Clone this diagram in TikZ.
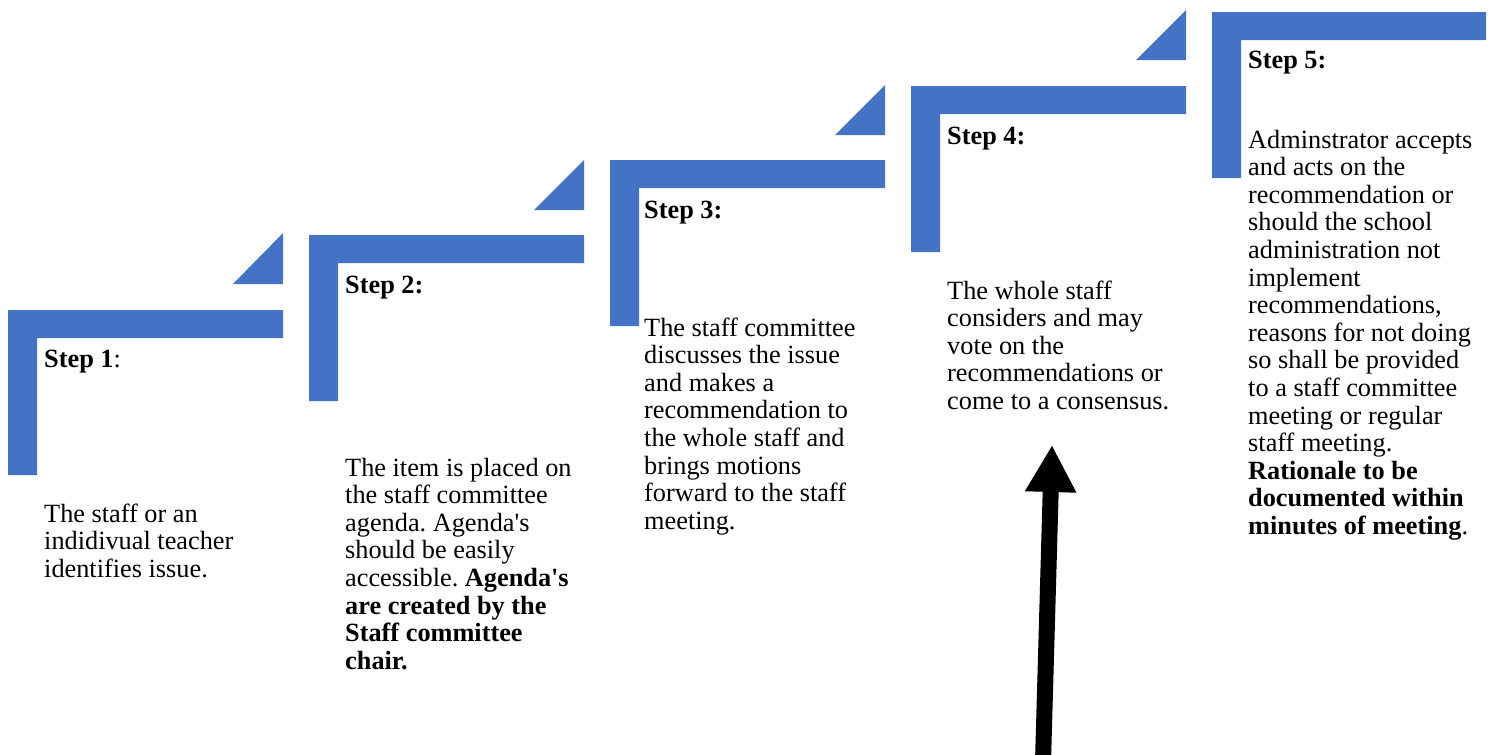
\documentclass[tikz,border=0pt]{standalone}
\usepackage{fontspec}
\setmainfont{Liberation Serif}
\usetikzlibrary{arrows.meta}
\definecolor{stepblue}{HTML}{4472C4}
\newcommand{\apos}{\textquotesingle}
\frenchspacing
\tikzset{
  stair/.style={fill=stepblue, draw=none},
  head/.style={anchor=base west, inner sep=0pt, font=\fontsize{26.3}{27.6}\selectfont},
  % base of a multi-line node is its last line
  body/.style={anchor=base west, inner sep=0pt, align=left, font=\fontsize{26.3}{27.6}\selectfont}
}
\begin{document}
\begin{tikzpicture}[x=1pt, y=-1pt]
    \useasboundingbox (0,0) rectangle (1494,755);

    % Stairs
    \fill[stair] (8,310) -- (283,310) -- (283,338) -- (37,338) -- (37,475) -- (8,475) -- cycle;
    \fill[stair] (233,284) -- (283,284) -- (283,233) -- cycle;
    \fill[stair] (309,235) -- (584,235) -- (584,263) -- (338,263) -- (338,401) -- (309,401) -- cycle;
    \fill[stair] (534,210) -- (584,210) -- (584,160) -- cycle;
    \fill[stair] (610,160) -- (885,160) -- (885,188) -- (639,188) -- (639,326) -- (610,326) -- cycle;
    \fill[stair] (835,135) -- (885,135) -- (885,85) -- cycle;
    \fill[stair] (911,86) -- (1186,86) -- (1186,114) -- (940,114) -- (940,252) -- (911,252) -- cycle;
    \fill[stair] (1136,60) -- (1186,60) -- (1186,10) -- cycle;
    \fill[stair] (1212,12) -- (1486,12) -- (1486,40) -- (1241,40) -- (1241,178) -- (1212,178) -- cycle;

    % Step texts
    \node (s1head) [head] at (44,367) {\textbf{Step 1}:};
    \node (s1body) [body] at (44,577.2) {The staff or an\\indidivual teacher\\identifies issue.};

    \node (s2head) [head] at (345,293) {\textbf{Step 2:}};
    \node (s2body) [body] at (345,669.2) {The item is placed on\\the staff committee\\agenda. Agenda\apos s\\should be easily\\accessible. \textbf{Agenda\apos s}\\\textbf{are created by the}\\\textbf{Staff committee}\\\textbf{chair.}};

    \node (s3head) [head] at (644,218) {\textbf{Step 3:}};
    \node (s3body) [body] at (644,529.2) {The staff committee\\discusses the issue\\and makes a\\recommendation to\\the whole staff and\\brings motions\\forward to the staff\\meeting.};

    \node (s4head) [head] at (947,144) {\textbf{Step 4:}};
    \node (s4body) [body] at (947,409.4) {The whole staff\\considers and may\\vote on the\\recommendations or\\come to a consensus.};

    \node (s5head) [head] at (1248,68) {\textbf{Step 5:}};
    \node (s5body) [body] at (1248,534.4) {Adminstrator accepts\\and acts on the\\recommendation or\\should the school\\administration not\\implement\\recommendations,\\reasons for not doing\\so shall be provided\\to a staff committee\\meeting or regular\\staff meeting.\\\textbf{Rationale to be}\\\textbf{documented within}\\\textbf{minutes of meeting}.};

    % Arrow
    \coordinate (tail) at (1043,762);
    \coordinate (tip) at (1052,445);
    \draw[line width=16pt, -{Triangle[length=47pt, width=48pt]}] (tail) -- (tip);
\end{tikzpicture}
\end{document}
